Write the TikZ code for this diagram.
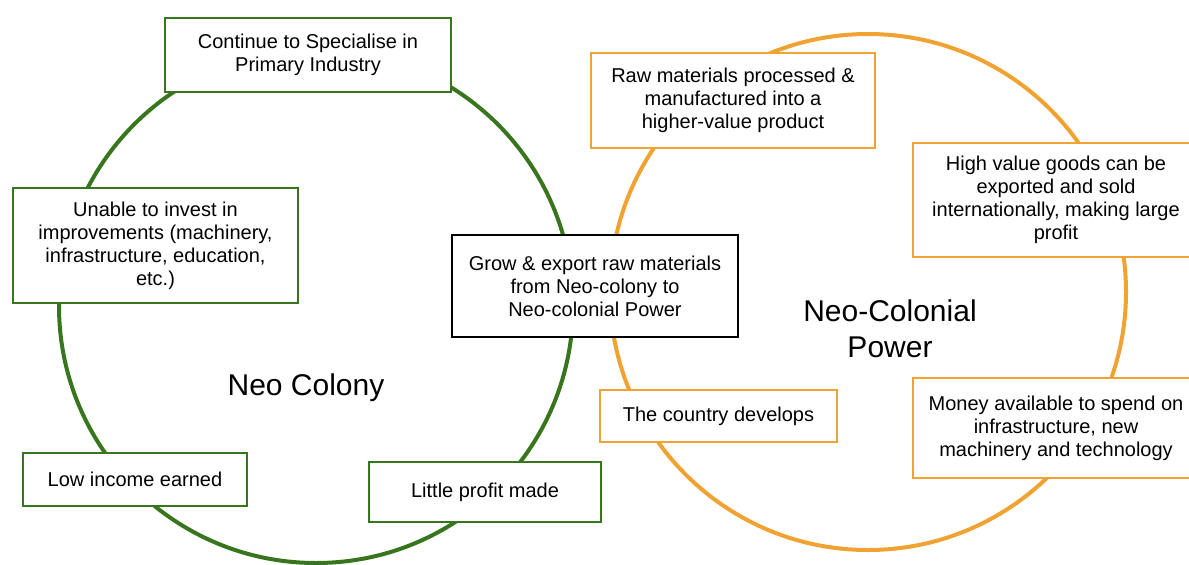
\documentclass[tikz,border=0pt]{standalone}
\usepackage{fontspec}
\setmainfont{Liberation Sans}
\usetikzlibrary{positioning}
\definecolor{colonygreen}{HTML}{38761D}
\definecolor{powerorange}{HTML}{F0A333}

\begin{document}
\begin{tikzpicture}[x=1pt,y=-1pt,
        stepbox/.style={fill=white,line width=2.4pt,align=center,inner sep=0pt,
            font=\fontsize{20}{23}\selectfont},
        greenbox/.style={stepbox,draw=colonygreen},
        orangebox/.style={stepbox,draw=powerorange},
        blackbox/.style={stepbox,draw=black,line width=2.6pt},
        ringtitle/.style={align=center,font=\fontsize{30}{36}\selectfont}]
        % Fix the page size
        \useasboundingbox (0,0) rectangle (1189,565);
        % Draw the two cycles
        \draw[colonygreen,line width=4pt] (316,306) circle (257pt);
        \draw[powerorange,line width=4pt] (868,292) circle (258pt);
        % Draw the neo colony steps
        \node[greenbox,minimum width=286,minimum height=74] (specialise) at (308,55) {Continue to Specialise in\\Primary Industry};
        \node[greenbox,minimum width=285,minimum height=115] (noinvest) at (155.5,245.5) {Unable to invest in\\improvements (machinery,\\infrastructure, education,\\etc.)};
        \node[greenbox,minimum width=224,minimum height=53] (lowincome) at (135,479.5) {Low income earned};
        \node[greenbox,minimum width=232,minimum height=60] (littleprofit) at (485,492) {Little profit made};
        % Draw the shared step
        \node[blackbox,minimum width=286,minimum height=102] (export) at (595,286) {Grow \& export raw materials\\from Neo-colony to\\Neo-colonial Power};
        % Draw the neo-colonial power steps
        \node[orangebox,minimum width=284,minimum height=95] (processed) at (733,100.5) {Raw materials processed \&\\manufactured into a\\higher-value product};
        \node[orangebox,minimum width=286,minimum height=114] (sold) at (1056,200) {High value goods can be\\exported and sold\\internationally, making large\\profit};
        \node[orangebox,minimum width=286,minimum height=100] (money) at (1056,428) {Money available to spend on\\infrastructure, new\\machinery and technology};
        \node[orangebox,minimum width=237,minimum height=52] (develops) at (718.5,416) {The country develops};
        % Draw the titles
        \node[ringtitle,anchor=base] (colony) at (306,395) {Neo Colony};
        \node[ringtitle] (power) at (890,329) {Neo-Colonial\\Power};
    \end{tikzpicture}
\end{document}
